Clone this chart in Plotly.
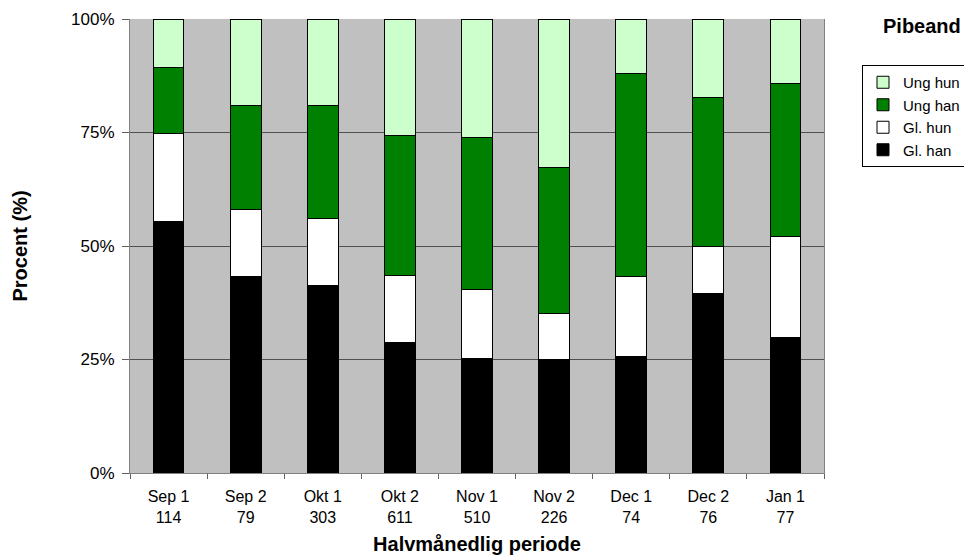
import plotly.graph_objects as go

categories = ["Sep 1", "Sep 2", "Okt 1", "Okt 2", "Nov 1", "Nov 2", "Dec 1", "Dec 2", "Jan 1"]
totals = [114, 79, 303, 611, 510, 226, 74, 76, 77]

gl_han = [55.3, 43.2, 41.2, 28.8, 25.3, 24.9, 25.6, 39.6, 29.9]
gl_hun = [19.4, 14.9, 14.9, 14.6, 15.2, 10.3, 17.6, 10.2, 22.1]
ung_han = [14.7, 22.9, 24.9, 30.9, 33.3, 32.0, 44.7, 33.0, 33.7]
ung_hun = [10.6, 19.0, 19.0, 25.7, 26.2, 32.8, 12.1, 17.2, 14.3]

series = [
    ("Gl. han", gl_han, "#000000"),
    ("Gl. hun", gl_hun, "#FFFFFF"),
    ("Ung han", ung_han, "#008000"),
    ("Ung hun", ung_hun, "#CCFFCC"),
]

ticktext = [f"{c}<br>{n}" for c, n in zip(categories, totals)]

fig = go.Figure()
for name, vals, color in series:
    fig.add_trace(go.Bar(
        x=categories, y=vals, name=name,
        marker=dict(color=color, line=dict(color="#000000", width=1)),
    ))

font = "Liberation Sans, Arial, sans-serif"
W, H = 964, 552
L, R, T, B = 122, 148, 11, 87
pw = W - L - R
ph = H - T - B

def px(xfig):
    return (xfig - L) / pw

def py(yfig):
    return 1 - (yfig - T) / ph

fig.update_layout(
    barmode="stack",
    barnorm="percent",
    bargap=0.6,
    width=W, height=H,
    margin=dict(l=L, r=R, t=T, b=B, autoexpand=False),
    paper_bgcolor="white",
    plot_bgcolor="#C0C0C0",
    font=dict(family=font, size=16, color="black"),
    legend=dict(
        x=px(958), y=py(57), xanchor="right", yanchor="top",
        traceorder="reversed",
        bordercolor="black", borderwidth=1, bgcolor="white",
        font=dict(size=15), itemwidth=30, tracegroupgap=0,
    ),
    annotations=[dict(
        text="<b>Pibeand</b>", x=px(914), y=py(18), xref="paper", yref="paper",
        xanchor="center", yanchor="middle", showarrow=False,
        font=dict(size=20, family=font),
    )],
)
fig.update_xaxes(
    tickmode="array", tickvals=categories, ticktext=ticktext,
    tickson="boundaries", ticks="outside", ticklen=5, tickcolor="#606060",
    ticklabelstandoff=9,
    showgrid=False, showline=True, linecolor="#808080",
    title=dict(text="<b>Halvmånedlig periode</b>", font=dict(size=20), standoff=11),
)
fig.update_yaxes(
    range=[0, 100], tickvals=[0, 25, 50, 75, 100],
    ticktext=["0%", "25%", "50%", "75%", "100%"],
    tickfont=dict(size=17),
    ticks="outside", ticklen=7, tickcolor="#606060", ticklabelstandoff=4,
    showgrid=True, gridcolor="#505050", gridwidth=1,
    showline=True, linecolor="#808080", mirror=True, zeroline=False,
    title=dict(text="<b>Procent (%)</b>", font=dict(size=20), standoff=38),
)
fig.write_html("out.html")
